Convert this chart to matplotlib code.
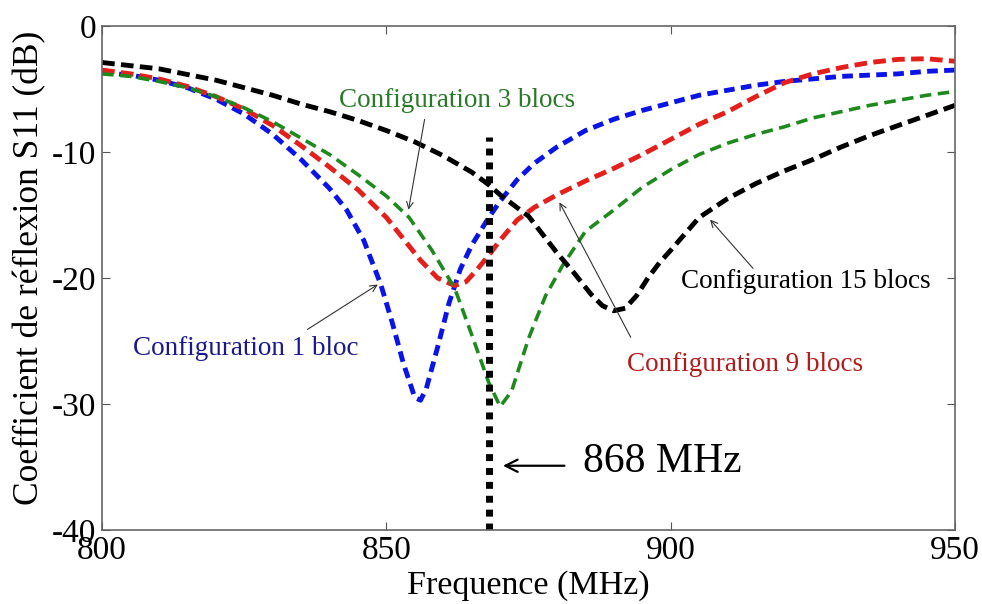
import numpy as np
import matplotlib.pyplot as plt

plt.rcParams['font.family'] = ['Liberation Serif', 'DejaVu Serif']
plt.rcParams['axes.unicode_minus'] = False

# Frequencies (MHz) and S11 (dB)
f_blue = [800, 805, 810, 815, 820, 825, 830, 835, 840, 843, 846, 849, 851, 853, 855, 856,
          857, 859, 861, 863, 865, 868, 870, 873, 876, 880, 885, 890, 895, 900, 905, 910,
          915, 920, 925, 930, 935, 940, 945, 950]
s_blue = [-3.7, -3.9, -4.3, -4.9, -5.8, -7.0, -8.6, -10.6, -12.9, -14.6, -17.0, -20.5, -23.5,
          -26.8, -29.5, -29.7, -28.8, -25.5, -22.0, -19.3, -17.4, -15.2, -13.9, -12.2, -10.9,
          -9.6, -8.3, -7.4, -6.7, -6.1, -5.5, -5.1, -4.7, -4.4, -4.2, -4.0, -3.9, -3.8, -3.6, -3.5]

f_green = [800, 805, 810, 815, 820, 825, 830, 835, 840, 845, 850, 854, 858, 862, 865, 868,
           870, 872, 875, 878, 881, 885, 890, 895, 900, 905, 910, 915, 920, 925, 930, 935,
           940, 945, 950]
s_green = [-3.8, -4.0, -4.4, -4.9, -5.6, -6.5, -7.6, -8.9, -10.2, -11.8, -13.5, -15.2, -17.8,
           -20.8, -24.5, -28.3, -30.2, -29.0, -24.8, -21.4, -19.0, -16.3, -14.6, -12.8, -11.4,
           -10.2, -9.3, -8.6, -8.0, -7.3, -6.8, -6.3, -5.9, -5.5, -5.2]

f_red = [800, 805, 810, 815, 820, 825, 830, 835, 840, 845, 850, 853, 856, 859, 862, 864,
         866, 868, 870, 873, 876, 880, 885, 890, 895, 900, 905, 910, 915, 920, 925, 930,
         935, 940, 945, 950]
s_red = [-3.5, -3.8, -4.2, -4.8, -5.6, -6.6, -7.9, -9.5, -11.2, -13.0, -15.2, -16.9, -18.6,
         -20.0, -20.6, -20.3, -19.3, -18.2, -17.0, -15.4, -14.4, -13.4, -12.3, -11.3, -10.2,
         -9.0, -7.8, -6.8, -5.6, -4.5, -3.8, -3.3, -2.9, -2.65, -2.6, -2.8]

f_black = [800, 810, 820, 830, 835, 840, 845, 850, 855, 860, 865, 868, 870, 875, 880, 883,
           886, 888, 890, 892, 894, 896, 898, 900, 905, 910, 915, 920, 925, 930, 935, 940,
           945, 950]
s_black = [-2.9, -3.4, -4.3, -5.5, -6.2, -6.8, -7.5, -8.3, -9.2, -10.3, -11.6, -12.6, -13.4,
           -15.1, -18.0, -19.6, -21.3, -22.2, -22.6, -22.4, -21.4, -20.0, -18.8, -17.8, -15.2,
           -13.7, -12.5, -11.5, -10.6, -9.6, -8.7, -7.9, -7.1, -6.3]

f_mark = 868
mark_top = -8.8

fig = plt.figure(figsize=(9.82, 6.04), dpi=100)
ax = fig.add_axes([0.104, 0.1225, 0.8685, 0.8345])

ax.plot(f_blue, s_blue, color='#0a14e6', lw=3.5, ls=(0, (2.2, 1.3)))
ax.plot(f_red, s_red, color='#e3201c', lw=3.5, ls=(0, (2.6, 1.3)))
ax.plot(f_green, s_green, color='#1e8a1e', lw=2.6, ls=(0, (3.2, 1.8)))
ax.plot(f_black, s_black, color='black', lw=3.5, ls=(0, (2.6, 1.3)))

# 868 MHz marker
ax.plot([f_mark, f_mark], [-40, mark_top], color='black', lw=5, ls=(0, (1, 1)),
        solid_capstyle='butt', dash_capstyle='butt')
ax.annotate('', xy=(870.0, -34.9), xytext=(881.8, -34.9),
            arrowprops=dict(arrowstyle='->', lw=1.6, color='black', mutation_scale=22))
ax.text(884.6, -34.6, '868 MHz', fontsize=30, va='center', ha='left')

# labels of the curves
arr = dict(arrowstyle='->', lw=0.8, color='#333333', mutation_scale=12)
ax.text(862.4, -5.9, 'Configuration 3 blocs', color='#2a7a2a', fontsize=19.5,
        ha='center', va='center')
ax.annotate('', xy=(853.8, -14.8), xytext=(856.8, -7.2), arrowprops=arr)

ax.text(825.3, -25.6, 'Configuration 1 bloc', color='#1a1a8c', fontsize=19.5,
        ha='center', va='center')
ax.annotate('', xy=(848.9, -20.4), xytext=(835.7, -24.2), arrowprops=arr)

ax.text(923.8, -20.3, 'Configuration 15 blocs', color='black', fontsize=19.5,
        ha='center', va='center')
ax.annotate('', xy=(906.6, -15.2), xytext=(914.8, -19.4), arrowprops=arr)

ax.text(913.1, -26.9, 'Configuration 9 blocs', color='#b01c1c', fontsize=19.5,
        ha='center', va='center')
ax.annotate('', xy=(880.2, -13.8), xytext=(893.2, -24.9), arrowprops=arr)

ax.set_xlim(800, 950)
ax.set_ylim(-40, 0)
ax.set_xticks([800, 850, 900, 950])
ax.set_yticks([-40, -30, -20, -10, 0])
ax.tick_params(direction='in', top=True, right=True, labelsize=24, length=6,
               color='#555555', pad=4)
for s in ax.spines.values():
    s.set_color('#666666')
    s.set_linewidth(1.2)

ax.set_xlabel('Frequence (MHz)', fontsize=24.5, labelpad=3)
ax.set_ylabel('Coefficient de réflexion S11 (dB)', fontsize=25.5)
ax.yaxis.set_label_coords(-0.066, 0.52)

fig.savefig('out.png', dpi=100)
